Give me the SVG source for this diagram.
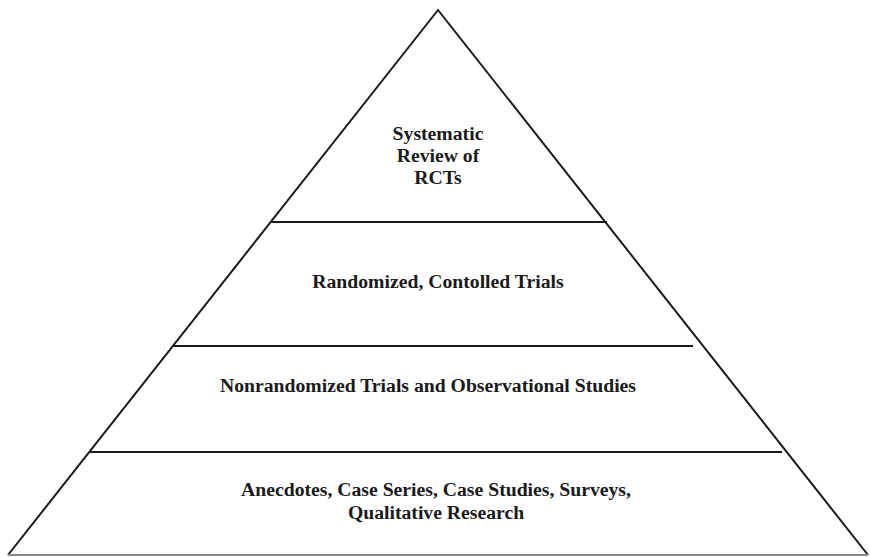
<svg xmlns="http://www.w3.org/2000/svg" width="870" height="557" viewBox="0 0 870 557">
  <style>
    .edge { fill: none; stroke: #1a1a1a; stroke-width: 2; stroke-linejoin: miter; }
    .base { stroke: #8c8c8c; stroke-width: 2; }
    .tier { stroke: #1a1a1a; stroke-width: 2; }
    .label { font-family: "Liberation Serif", "Times New Roman", serif; font-weight: bold; font-size: 19.7px; fill: #1a1a1a; text-anchor: middle; }
  </style>
  <rect width="870" height="557" fill="#ffffff"/>

  <!-- pyramid outline and tier dividers -->
  <g id="connectors">
    <polyline class="edge" points="8,555 438,10 868,555"/>
    <line class="base" x1="8" y1="555" x2="868" y2="555"/>
    <line class="tier" x1="271" y1="222" x2="607" y2="222"/>
    <line class="tier" x1="173" y1="346" x2="693" y2="346"/>
    <line class="tier" x1="90" y1="452" x2="782" y2="452"/>
  </g>

  <g id="tier-systematic-review">
    <text class="label" x="438" y="140">Systematic</text>
    <text class="label" x="438" y="162">Review of</text>
    <text class="label" x="438" y="184">RCTs</text>
  </g>

  <g id="tier-rct">
    <text class="label" x="438" y="288">Randomized, Contolled Trials</text>
  </g>

  <g id="tier-nonrandomized">
    <text class="label" x="428" y="392">Nonrandomized Trials and Observational Studies</text>
  </g>

  <g id="tier-anecdotes">
    <text class="label" x="436" y="496">Anecdotes, Case Series, Case Studies, Surveys,</text>
    <text class="label" x="436" y="519">Qualitative Research</text>
  </g>
</svg>
